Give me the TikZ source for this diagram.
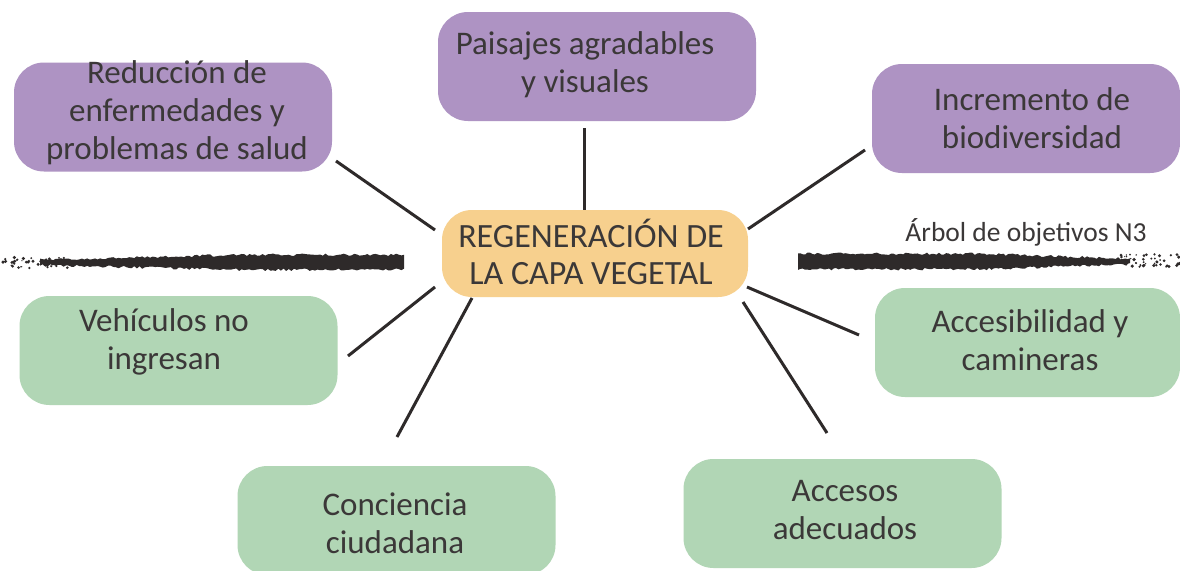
\documentclass[tikz,border=0pt]{standalone}
\usepackage{fontspec}
\setmainfont{Carlito}
\definecolor{purp}{HTML}{AE93C3}
\definecolor{grn}{HTML}{B1D6B5}
\definecolor{orng}{HTML}{F7D08E}
\definecolor{txt}{HTML}{3B3838}
\definecolor{ink}{HTML}{2E2A2A}
\tikzset{
  box/.style={rounded corners=30pt, minimum width=318pt, minimum height=109pt, inner sep=0pt, draw=none},
  pbox/.style={box, fill=purp},
  gbox/.style={box, fill=grn},
  obox/.style={box, fill=orng, minimum width=306pt, minimum height=87pt},
  lbl/.style={text=txt, align=center, inner sep=0pt, font=\fontsize{33}{38}\selectfont},
  conn/.style={ink, line width=3pt},
  brush/.style={fill=ink}
}
\begin{document}
\begin{tikzpicture}[x=1pt,y=-1pt]
\useasboundingbox[fill=white] (0,0) rectangle (1180,570);
\pgfmathsetseed{11}
% brush strokes
\fill[brush] plot[domain=40:404,samples=140] (\x,{262-(1+5*min((\x-40)/200,1))-2.5*rnd})
  -- plot[domain=404:40,samples=140] (\x,{263+(1+4.5*min((\x-40)/200,1))+2.5*rnd}) -- cycle;
\fill[brush] plot[domain=798:1130,samples=140] (\x,{261-(1+5*min((1130-\x)/150,1))-2.5*rnd})
  -- plot[domain=1130:798,samples=140] (\x,{262+(1+5*min((1130-\x)/150,1))+2.5*rnd}) -- cycle;
\foreach \i in {1,...,45}{
  \pgfmathsetmacro{\px}{rnd*70}
  \pgfmathsetmacro{\py}{257+rnd*11}
  \pgfmathsetmacro{\pr}{0.6+rnd*1.2}
  \fill[ink] (\px,\py) circle (\pr pt);
  \pgfmathsetmacro{\qx}{1120+rnd*60}
  \pgfmathsetmacro{\qy}{254+rnd*13}
  \pgfmathsetmacro{\qr}{0.6+rnd*1.2}
  \fill[ink] (\qx,\qy) circle (\qr pt);
}
% boxes
\node[pbox] (redbox) at (173,117) {};
\node[pbox] (paibox) at (597,66.5) {};
\node[pbox, minimum width=308pt] (incbox) at (1026,118.5) {};
\node[obox] (cenbox) at (595,253.5) {};
\node[gbox] (vehbox) at (178.5,350.5) {};
\node[gbox, minimum width=305pt] (acbbox) at (1027.5,342.5) {};
\node[gbox] (conbox) at (396.5,520.5) {};
\node[gbox] (acsbox) at (842.5,513.5) {};
% texts
\node[lbl] (redtxt) at (177,113) {Reducción de\\enfermedades y\\problemas de salud};
\node[lbl] (paitxt) at (585,65) {Paisajes agradables\\y visuales};
\node[lbl] (inctxt) at (1032,118) {Incremento de\\biodiversidad};
\node[lbl, font=\fontsize{34}{37}\selectfont] (centxt) at (591,252) {REGENERACIÓN DE\\LA CAPA VEGETAL};
\node[lbl] (vehtxt) at (164,342) {Vehículos no\\ingresan};
\node[lbl] (acbtxt) at (1030,340) {Accesibilidad y\\camineras};
\node[lbl] (contxt) at (395,523) {Conciencia\\ciudadana};
\node[lbl] (acstxt) at (845,510) {Accesos\\adecuados};
\node[text=txt, inner sep=0pt, font=\fontsize{27.5}{30}\selectfont] (tag) at (1026,232) {Árbol de objetivos N3};
% connector end points
\coordinate (r1) at (336,161); \coordinate (r2) at (435,230);
\coordinate (p1) at (584,128); \coordinate (p2) at (584,210);
\coordinate (i1) at (865,150); \coordinate (i2) at (748,229);
\coordinate (v1) at (348,356); \coordinate (v2) at (435,287);
\coordinate (c1) at (397,437); \coordinate (c2) at (472,298);
\coordinate (b1) at (747,287); \coordinate (b2) at (859,335);
\coordinate (a1) at (743,302); \coordinate (a2) at (827,433);
\draw[conn] (r1) -- (r2);
\draw[conn] (p1) -- (p2);
\draw[conn] (i1) -- (i2);
\draw[conn] (v1) -- (v2);
\draw[conn] (c1) -- (c2);
\draw[conn] (b1) -- (b2);
\draw[conn] (a1) -- (a2);
\end{tikzpicture}
\end{document}
